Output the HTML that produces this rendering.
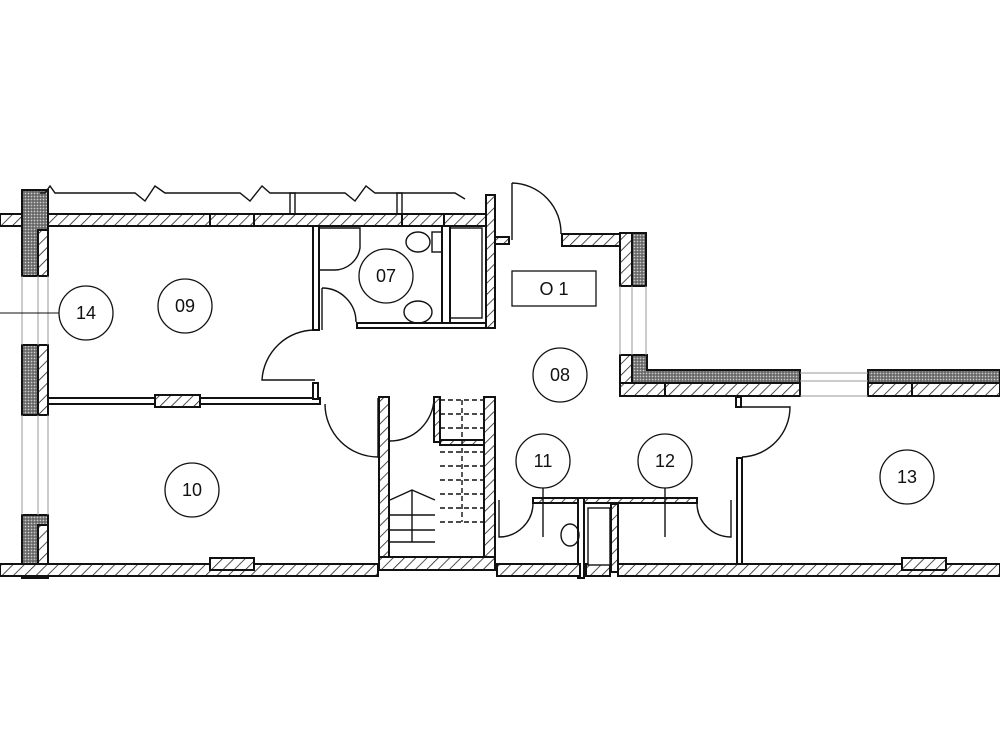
<!DOCTYPE html>
<html><head><meta charset="utf-8"><style>html,body{margin:0;padding:0;background:#fff}svg{display:block}</style></head>
<body>
<svg width="1000" height="750" viewBox="0 0 1000 750" xmlns="http://www.w3.org/2000/svg" font-family="Liberation Sans, sans-serif">
<defs>
<pattern id="h" width="8" height="8" patternUnits="userSpaceOnUse" patternTransform="rotate(45)">
<rect width="8" height="8" fill="#fff"/><line x1="0" y1="0" x2="0" y2="8" stroke="#222" stroke-width="1.6"/></pattern>
<pattern id="d" width="3" height="3" patternUnits="userSpaceOnUse">
<rect width="3" height="3" fill="#666"/><circle cx="1.5" cy="1.5" r="0.9" fill="#ccc"/></pattern>
</defs>
<g stroke="#111" stroke-width="2" fill="url(#h)">
<rect x="0" y="214" width="495" height="12"/>
<rect x="210" y="214" width="44" height="12"/>
<rect x="402" y="214" width="42" height="12"/>
<rect x="22" y="190" width="26" height="86" fill="url(#d)"/>
<rect x="38" y="230" width="10" height="46"/>
<rect x="22" y="345" width="26" height="70" fill="url(#d)"/>
<rect x="38" y="345" width="10" height="70"/>
<rect x="22" y="515" width="26" height="63" fill="url(#d)"/>
<rect x="38" y="525" width="10" height="50"/>
<rect x="48" y="398" width="272" height="6" fill="#fff"/>
<rect x="155" y="395" width="45" height="12"/>
<rect x="313" y="226" width="6" height="104" fill="#fff"/>
<rect x="357" y="323" width="138" height="5" fill="#fff"/>
<rect x="486" y="195" width="9" height="133"/>
<rect x="442" y="226" width="8" height="97" fill="#fff"/>
<rect x="313" y="383" width="5" height="16" fill="#fff"/>
<rect x="495" y="237" width="14" height="7"/>
<rect x="562" y="234" width="58" height="12"/>
<rect x="620" y="233" width="12" height="53"/>
<rect x="632" y="233" width="14" height="53" fill="url(#d)"/>
<!-- lower right outer wall -->
<path d="M620,355 L647,355 L647,370 L800,370 L800,396 L620,396 Z"/>
<rect x="620" y="355" width="12" height="28"/>
<path d="M632,355 L647,355 L647,370 L800,370 L800,383 L632,383 Z" fill="url(#d)"/>
<rect x="620" y="383" width="45" height="13"/>
<rect x="868" y="370" width="132" height="26"/>
<rect x="868" y="370" width="132" height="13" fill="url(#d)"/>
<rect x="868" y="383" width="44" height="13"/>
<rect x="379" y="397" width="10" height="173"/>
<rect x="484" y="397" width="11" height="173"/>
<rect x="379" y="557" width="116" height="13"/>
<rect x="434" y="397" width="6" height="45"/>
<rect x="440" y="440" width="44" height="5"/>
<rect x="533" y="498" width="164" height="5"/>
<rect x="578" y="498" width="6" height="80" fill="#fff"/>
<rect x="611" y="504" width="7" height="68"/>
<rect x="737" y="458" width="5" height="112" fill="#fff"/>
<rect x="736" y="397" width="5" height="10" fill="#fff"/>
<rect x="0" y="564" width="378" height="12"/>
<rect x="210" y="558" width="44" height="12"/>
<rect x="497" y="564" width="83" height="12"/>
<rect x="586" y="564" width="24" height="12"/>
<rect x="618" y="564" width="382" height="12"/>
<rect x="902" y="558" width="44" height="12"/>
</g>
<g stroke="#111" stroke-width="1.4" fill="none">
<polyline points="40,193 45,193 50,186 55,193 135,193 145,201 155,186 165,193 240,193 250,201 262,186 270,193 345,193 355,201 366,186 375,193 455,193 465,199"/>
<rect x="290" y="193" width="5" height="21"/>
<rect x="397" y="193" width="5" height="21"/>
<path d="M315,330 A53,53 0 0 0 262,380 L315,380"/>
<path d="M322,288 A34,34 0 0 1 356,322"/>
<line x1="322" y1="288" x2="322" y2="330"/>
<path d="M319,228 L360,228 L360,248 A26,26 0 0 1 334,270 L319,270"/>
<path d="M325,404 A53,53 0 0 0 378,457 L378,398"/>
<path d="M390,441 A44,44 0 0 0 434,399"/>
<path d="M512,183 A50,50 0 0 1 561,234 M512,183 L512,240"/>
<path d="M742,407 L790,407 A50,50 0 0 1 742,457"/>
<path d="M533,503 A34,34 0 0 1 499,537 L499,500"/>
<path d="M697,503 A34,34 0 0 0 731,537 L731,500"/>
<line x1="543" y1="488" x2="543" y2="537"/>
<line x1="665" y1="488" x2="665" y2="537"/>
<rect x="588" y="508" width="22" height="57" fill="#fff"/>
<ellipse cx="570" cy="535" rx="9" ry="11"/>
<rect x="450" y="228" width="32" height="90"/>
<ellipse cx="418" cy="242" rx="12" ry="10"/>
<rect x="432" y="232" width="10" height="20"/>
<ellipse cx="418" cy="312" rx="14" ry="11"/>
<path d="M390,515 L435,515 M390,530 L435,530 M390,500 L412,490 L435,500 M412,490 L412,542 M390,542 L435,542"/>
<path d="M440,400 L484,400 M440,414 L484,414 M440,428 L484,428 M440,452 L484,452 M440,466 L484,466 M440,480 L484,480 M440,494 L484,494 M440,508 L484,508 M440,522 L484,522 M462,400 L462,522" stroke-dasharray="5,3"/>
<g stroke="#999" stroke-width="1">
<line x1="22" y1="276" x2="22" y2="345"/><line x1="38" y1="276" x2="38" y2="345"/><line x1="48" y1="276" x2="48" y2="345"/>
<line x1="22" y1="415" x2="22" y2="515"/><line x1="38" y1="415" x2="38" y2="515"/><line x1="48" y1="415" x2="48" y2="515"/>
<line x1="620" y1="286" x2="620" y2="355"/><line x1="632" y1="286" x2="632" y2="355"/><line x1="646" y1="286" x2="646" y2="355"/>
<line x1="800" y1="373" x2="868" y2="373"/><line x1="800" y1="381" x2="868" y2="381"/><line x1="800" y1="396" x2="868" y2="396"/>
</g>
<line x1="0" y1="313" x2="59" y2="313" stroke-width="1"/>
<g stroke-width="1.3">
<circle cx="86" cy="313" r="27"/><circle cx="185" cy="306" r="27"/><circle cx="386" cy="276" r="27"/>
<circle cx="560" cy="375" r="27"/><circle cx="192" cy="490" r="27"/><circle cx="543" cy="461" r="27"/>
<circle cx="665" cy="461" r="27"/><circle cx="907" cy="477" r="27"/>
<rect x="512" y="271" width="84" height="35"/>
</g>
</g>
<g font-size="18" fill="#111" text-anchor="middle">
<text x="86" y="319">14</text><text x="185" y="312">09</text><text x="386" y="282">07</text>
<text x="560" y="381">08</text><text x="192" y="496">10</text><text x="543" y="467">11</text>
<text x="665" y="467">12</text><text x="907" y="483">13</text>
<text x="554" y="295">O 1</text>
</g>
</svg>
</body></html>
